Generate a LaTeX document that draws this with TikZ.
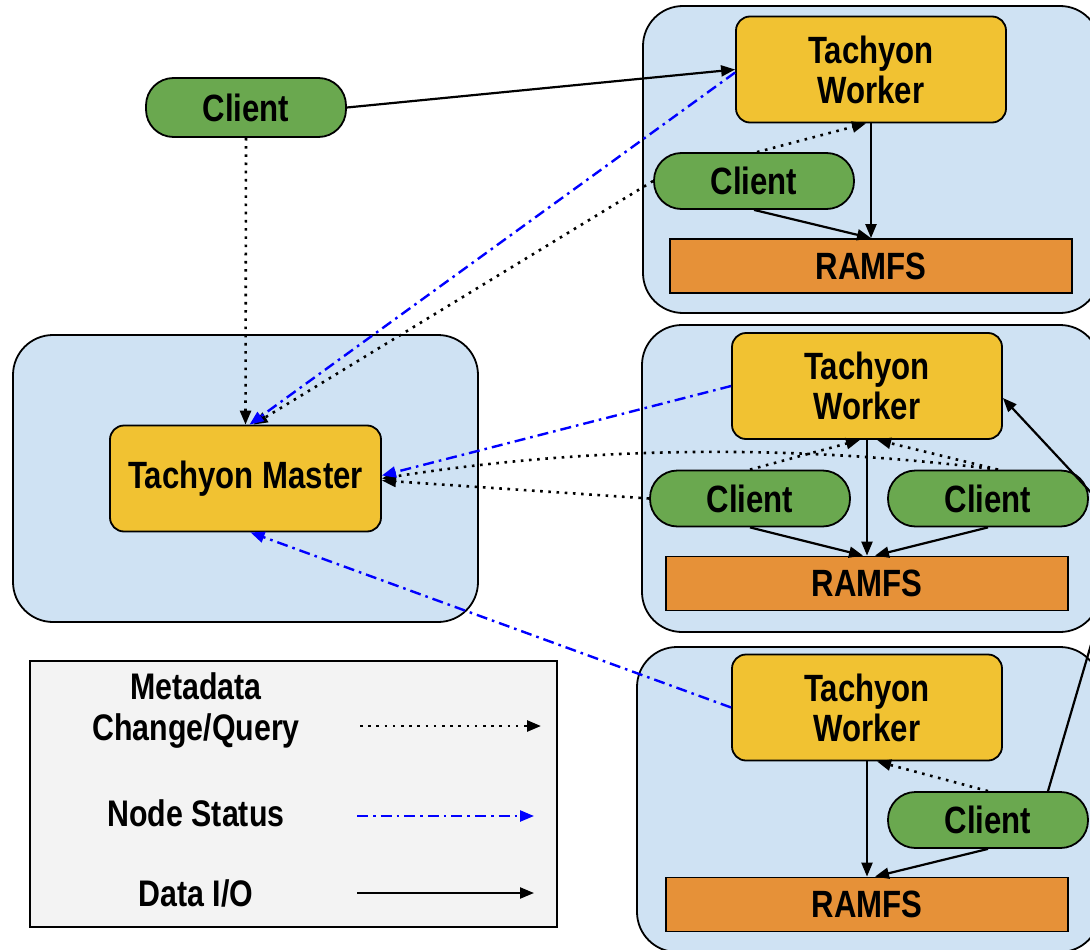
\documentclass[tikz,border=0pt]{standalone}
\usepackage{fontspec}
\setmainfont{Liberation Sans}[FakeStretch=0.82]
\usetikzlibrary{arrows.meta}

\definecolor{hostblue}{HTML}{CFE2F3}
\definecolor{tyellow}{HTML}{F1C232}
\definecolor{cgreen}{HTML}{6AA84F}
\definecolor{rorange}{HTML}{E69138}
\definecolor{keygray}{HTML}{F3F3F3}

\begin{document}
\begin{tikzpicture}[x=1pt, y=-1pt,
  font=\fontsize{38}{40}\selectfont\bfseries,
  host/.style={draw, line width=1.8pt, fill=hostblue, rounded corners=40pt},
  tach/.style={draw, line width=1.8pt, fill=tyellow, rounded corners=14pt, align=center, minimum width=270pt, minimum height=106pt},
  client/.style={draw, line width=1.8pt, fill=cgreen, rounded corners=27.5pt, minimum width=200pt, minimum height=56pt},
  ramfs/.style={draw, line width=1.8pt, fill=rorange, minimum width=402pt, minimum height=54pt},
  keytxt/.style={align=center, font=\fontsize{37}{41}\selectfont\bfseries},
  tip/.style={-{Triangle[length=14pt,width=11pt]}},
  io/.style={tip, line width=2.2pt},
  meta/.style={tip, line width=2.6pt, dash pattern=on 2.6pt off 5.6pt},
  stat/.style={tip, line width=2.4pt, blue, dash pattern=on 11pt off 5pt on 2.6pt off 5pt}]
\useasboundingbox (0,0) rectangle (1090,950);
\fill[white] (0,0) rectangle (1090,950);
\clip (0,0) rectangle (1090,950);

% hosts
\node[host, minimum width=465pt, minimum height=287pt] (hm) at (245.5,478.5) {};
\node[host, minimum width=457pt, minimum height=307pt] (h1) at (871.5,159.5) {};
\node[host, minimum width=458pt, minimum height=307pt] (h2) at (871,478.5) {};
\node[host, minimum width=463pt, minimum height=305pt] (h3) at (868.5,799.5) {};

% legend
\node[draw, line width=2.2pt, fill=keygray, minimum width=527pt, minimum height=266pt] (key) at (293.5,794) {};
\node[keytxt] (kmeta) at (196,711) {Metadata\\Change/Query};
\node[keytxt] (kstat) at (196,813) {Node Status};
\node[keytxt] (kio) at (196,893) {Data I/O};
\coordinate (k1a) at (360,726); \coordinate (k1b) at (541,726);
\coordinate (k2a) at (357,816); \coordinate (k2b) at (534,816);
\coordinate (k3a) at (357,893); \coordinate (k3b) at (534,893);
\draw[meta] (k1a) -- (k1b);
\draw[stat] (k2a) -- (k2b);
\draw[io] (k3a) -- (k3b);

% master and workers
\node[tach, minimum width=271pt] (m) at (245.5,478.5) {Tachyon Master};
\node[tach] (w1) at (871,69.5) {Tachyon\\Worker};
\node[tach] (w2) at (867,386) {Tachyon\\Worker};
\node[tach] (w3) at (867,707.5) {Tachyon\\Worker};

\node[ramfs] (r1) at (871,266) {RAMFS};
\node[ramfs] (r2) at (867,583.5) {RAMFS};
\node[ramfs] (r3) at (867,904.5) {RAMFS};

\node[client, minimum height=59pt] (c0) at (246,107.5) {Client};
\node[client] (ct) at (754,181) {Client};
\node[client] (cl) at (750,498.5) {Client};
\node[client] (cr) at (988,498.5) {Client};
\node[client] (cb) at (988,820) {Client};
\coordinate (turn) at (1125,529);

% data i/o
\foreach \x/\y in {w1/r1,w2/r2,w3/r3,ct/r1} \draw[io] (\x.south) -- (\y.north);
\draw[io] (c0.east) -- (w1.west);
\draw[io] (cl.south) -- ([xshift=-4pt]r2.north);
\draw[io] (cr.south) -- ([xshift=8pt]r2.north);
\draw[io] (cb.south) -- ([xshift=8pt]r3.north);
\draw[io] ([xshift=60pt]cb.north) -- (turn) -- ([yshift=-12pt]w2.east);

% metadata
\draw[meta] (c0.south) -- (m.north);
\draw[meta] (ct.west) -- ([xshift=8pt]m.north);
\draw[meta] ([xshift=3pt]ct.north) -- ([xshift=-5pt]w1.south);
\draw[meta] (cl.west) -- ([yshift=-2pt]m.east);
\draw[meta] ([xshift=10pt]cr.north) .. controls (790,444) and (590,446) .. (m.east);
\draw[meta] (cl.north) -- ([xshift=-7pt]w2.south);
\draw[meta] ([xshift=10pt]cr.north) -- ([xshift=10pt]w2.south);
\draw[meta] (cb.north) -- ([xshift=10pt]w3.south);

% node status
\draw[stat] ([yshift=-3pt]w1.west) -- ([xshift=4pt]m.north);
\draw[stat] (w2.west) -- ([yshift=3pt]m.east);
\draw[stat] (w3.west) -- ([xshift=5pt]m.south);
\end{tikzpicture}
\end{document}
